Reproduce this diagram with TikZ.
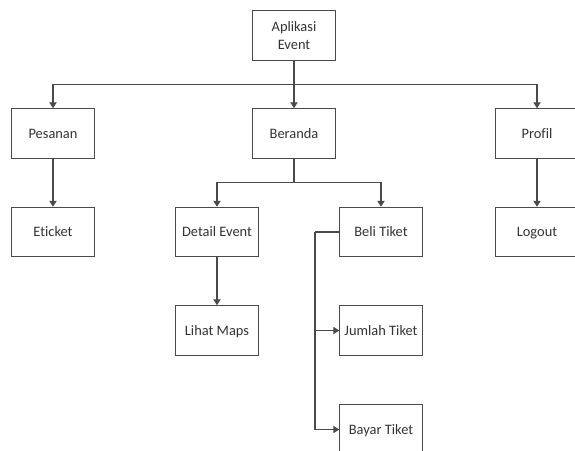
\documentclass[tikz,border=0pt]{standalone}
\usepackage{fontspec}
\setmainfont{Carlito}[Ligatures=NoCommon]
\usetikzlibrary{arrows.meta}

\definecolor{garis}{HTML}{4A4A4A}
\definecolor{teks}{HTML}{333333}

\begin{document}
\begin{tikzpicture}[line width = 0.6pt,
  menu/.style={draw=garis, fill=white, minimum width=1.65cm, minimum height=0.99cm,
    inner sep=1pt, align=center, text=teks, font=\fontsize{8.2}{9.8}\selectfont},
  satubaris/.style={menu, text height=1.5ex, text depth=0.35ex},
  panah/.style={draw=garis, -{Triangle[length=3.4pt,width=4.2pt]}},
  hubung/.style={draw=garis}]
 \useasboundingbox (0,0) rectangle (11.5,-9);
 \clip (0,0) rectangle (11.5,-9);

 % level 0
 \node[menu] (aplikasi) at (5.88,-0.71) {Aplikasi\\Event};

 % level 1
 \node[satubaris] (pesanan) at (1.06,-2.67) {Pesanan};
 \node[satubaris] (beranda) at (5.88,-2.67) {Beranda};
 \node[satubaris] (profil) at (10.74,-2.67) {Profil};

 % level 2
 \node[satubaris] (eticket) at (1.06,-4.64) {Eticket};
 \node[satubaris] (detail) at (4.34,-4.64) {Detail Event};
 \node[satubaris] (beli) at (7.62,-4.64) {Beli Tiket};
 \node[satubaris] (logout) at (10.74,-4.64) {Logout};

 % level 3
 \node[satubaris] (maps) at (4.34,-6.61) {Lihat Maps};
 \node[satubaris] (jumlah) at (7.62,-6.61) {Jumlah Tiket};
 \node[satubaris] (bayar) at (7.62,-8.59) {Bayar Tiket};

 \coordinate (cabang) at (5.88,-1.69);
 \coordinate (cabangberanda) at (5.88,-3.65);
 \coordinate (cabangbeli) at (6.30,-4.64);

 \draw[panah] (aplikasi) -- (beranda);
 \draw[panah] (cabang) -| (pesanan.north);
 \draw[panah] (cabang) -| (profil.north);

 \draw[panah] (pesanan) -- (eticket);
 \draw[panah] (profil) -- (logout);

 \draw[hubung] (beranda) -- (cabangberanda);
 \draw[panah] (cabangberanda) -| (detail.north);
 \draw[panah] (cabangberanda) -| (beli.north);

 \draw[panah] (detail) -- (maps);

 \draw[hubung] (beli.west) -- (cabangbeli);
 \draw[panah] (cabangbeli) |- (jumlah.west);
 \draw[panah] (cabangbeli) |- (bayar.west);
\end{tikzpicture}
\end{document}
